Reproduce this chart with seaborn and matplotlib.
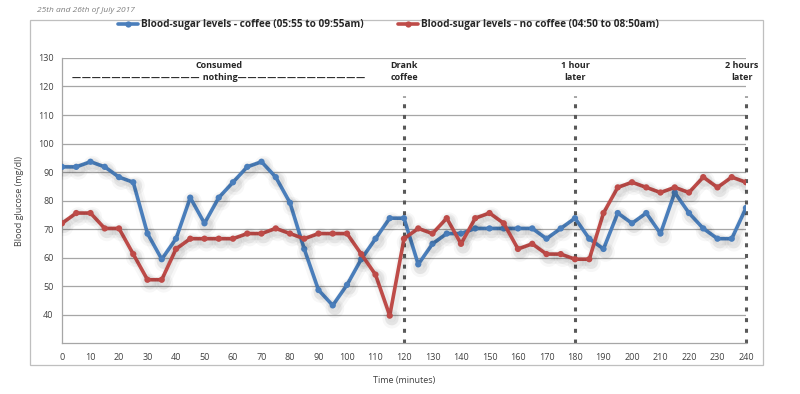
import pandas as pd
import matplotlib.pyplot as plt
import matplotlib.patheffects as pe
from matplotlib.patches import Rectangle
from matplotlib.lines import Line2D
import seaborn as sns

# minutes since start of each test, one reading every 5 minutes
minutes = list(range(0, 245, 5))

# blood glucose in mg/dl
coffee = [91.8, 91.8, 93.6, 91.8, 88.2, 86.4, 68.4, 59.4, 66.6, 81.0,
          72.0, 81.0, 86.4, 91.8, 93.6, 88.2, 79.2, 63.0, 48.6, 43.2,
          50.4, 59.4, 66.6, 73.8, 73.8, 57.6, 64.8, 68.4, 68.4, 70.2,
          70.2, 70.2, 70.2, 70.2, 66.6, 70.2, 73.8, 66.6, 63.0, 75.6,
          72.0, 75.6, 68.4, 82.8, 75.6, 70.2, 66.6, 66.6, 77.4]
no_coffee = [72.0, 75.6, 75.6, 70.2, 70.2, 61.2, 52.2, 52.2, 63.0, 66.6,
             66.6, 66.6, 66.6, 68.4, 68.4, 70.2, 68.4, 66.6, 68.4, 68.4,
             68.4, 61.2, 54.0, 39.6, 66.6, 70.2, 68.4, 73.8, 64.8, 73.8,
             75.6, 72.0, 63.0, 64.8, 61.2, 61.2, 59.4, 59.4, 75.6, 84.6,
             86.4, 84.6, 82.8, 84.6, 82.8, 88.2, 84.6, 88.2, 86.4]

series_names = ["Blood-sugar levels - coffee (05:55 to 09:55am)",
                "Blood-sugar levels - no coffee (04:50 to 08:50am)"]
colors = ["#4a7ebb", "#be4b48"]

# markers on the timeline
event_times = [120, 180, 240]
event_labels = ["Drank\ncoffee", "1 hour\nlater", "2 hours\nlater"]

df = pd.DataFrame({
    "minutes": minutes * 2,
    "glucose": coffee + no_coffee,
    "series": [series_names[0]] * len(coffee) + [series_names[1]] * len(no_coffee),
})

sns.set_style("white")
plt.rcParams["font.family"] = ["Open Sans", "DejaVu Sans"]

fig = plt.figure(figsize=(8, 3.94), dpi=100)
ax = fig.add_axes([0.0775, 0.1294, 0.855, 0.7234])

# dashed event lines behind the data
for t in event_times:
    ax.plot([t, t], [30, 116.5], color="#595959", lw=2.2,
            dashes=(1.3, 2.2), zorder=1, clip_on=False)

shadow = [pe.SimpleLineShadow(offset=(1.5, -2.5), shadow_color="k", alpha=0.03, linewidth=9),
          pe.SimpleLineShadow(offset=(1.5, -2), shadow_color="k", alpha=0.045, linewidth=5.5),
          pe.Normal()]

sns.lineplot(data=df, x="minutes", y="glucose", hue="series", hue_order=series_names,
             palette=colors, marker="o", markersize=4.5, markeredgewidth=0,
             linewidth=2.6, legend=False, ax=ax, zorder=3, path_effects=shadow)

ax.set_xlim(0, 240)
ax.set_ylim(30, 130)
ax.set_xticks(range(0, 241, 10))
ax.set_xticks(range(0, 241, 5), minor=True)
ax.set_yticks(range(40, 131, 10))
ax.grid(axis="y", color="#a6a6a6", lw=0.9)
ax.set_axisbelow(True)
for s in ["top", "right"]:
    ax.spines[s].set_visible(False)
for s in ["left", "bottom"]:
    ax.spines[s].set_color("#a6a6a6")
    ax.spines[s].set_linewidth(0.9)
ax.tick_params(axis="both", which="both", colors="#a6a6a6", labelcolor="#404040",
               labelsize=6.5, width=0.8)
ax.tick_params(axis="x", which="both", length=3, direction="in", pad=7)
ax.tick_params(axis="y", length=3, direction="out", pad=3)

ax.set_xlabel("Time (minutes)", fontsize=6.5, color="#404040", labelpad=10)
ax.set_ylabel("Blood glucose (mg/dl)", fontsize=6.5, color="#404040", labelpad=10)

# annotations above the plot
dash = "\u2014\u200a"
ax.text(55, 125.3, "Consumed\n" + dash * 13 + " nothing" + dash * 13,
        ha="center", va="center", fontsize=6.5, fontweight="bold",
        color="#262626", linespacing=1.35)
for t, lab in zip(event_times, event_labels):
    x = t - 1.5 if t == 240 else t
    ax.text(x, 125.3, lab, ha="center", va="center", fontsize=6.5, fontweight="bold",
            color="#262626", linespacing=1.35, clip_on=False)

# legend along the top
handles = [Line2D([], [], color=c, lw=2.6, marker="o", markersize=4.5, markeredgewidth=0)
           for c in colors]
leg = fig.legend(handles, series_names, loc="center", bbox_to_anchor=(0.4856, 1 - 25 / 394),
                 ncol=2, frameon=False, handlelength=2.0, handletextpad=0.35,
                 columnspacing=3.4, prop={"size": 7.2, "weight": "bold"})
for txt in leg.get_texts():
    txt.set_color("#262626")

# chart frame and subtitle
fig.patches.append(Rectangle((30 / 800, 1 - 365 / 394), 733 / 800, 345 / 394,
                             transform=fig.transFigure, fill=False,
                             edgecolor="#bfbfbf", lw=0.9))
fig.text(37 / 800, 1 - 10 / 394, "25th and 26th of July 2017", fontsize=6,
         style="italic", color="#7f7f7f", va="center")

fig.savefig("out.png", dpi=100)
